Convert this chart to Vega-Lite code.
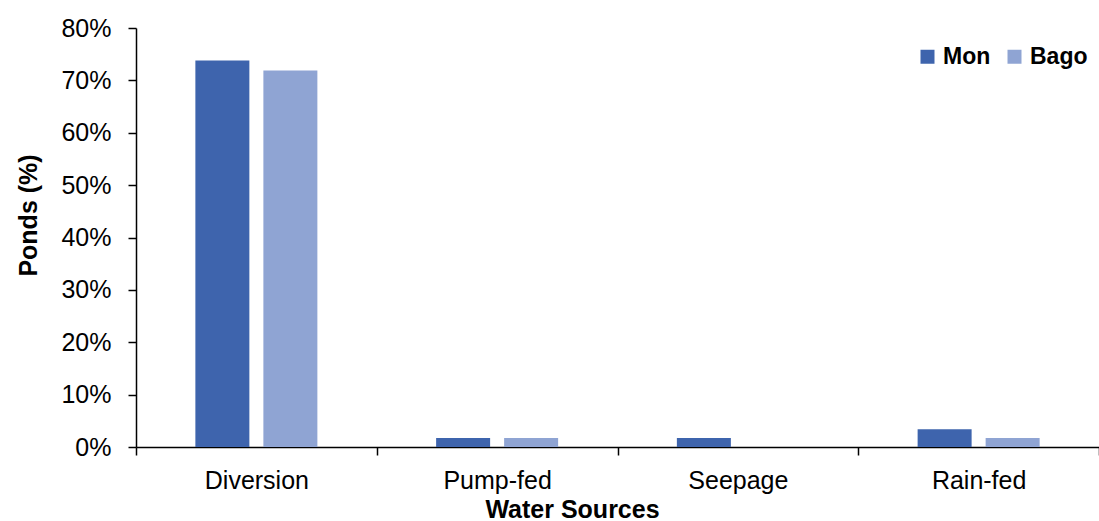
{
  "$schema": "https://vega.github.io/schema/vega-lite/v6.json",
  "autosize": "none",
  "width": 963,
  "height": 419,
  "padding": {"left": 136, "top": 28, "right": 0, "bottom": 74},
  "background": "white",
  "config": {
    "view": {"stroke": null},
    "font": "Liberation Sans"
  },
  "data": {
    "values": [
      {"source": "Diversion", "region": "Mon", "value": 0.738},
      {"source": "Diversion", "region": "Bago", "value": 0.719},
      {"source": "Pump-fed", "region": "Mon", "value": 0.017},
      {"source": "Pump-fed", "region": "Bago", "value": 0.017},
      {"source": "Seepage", "region": "Mon", "value": 0.017},
      {"source": "Seepage", "region": "Bago", "value": 0},
      {"source": "Rain-fed", "region": "Mon", "value": 0.034},
      {"source": "Rain-fed", "region": "Bago", "value": 0.017}
    ]
  },
  "mark": {"type": "bar"},
  "encoding": {
    "x": {
      "field": "source",
      "type": "nominal",
      "sort": ["Diversion", "Pump-fed", "Seepage", "Rain-fed"],
      "scale": {"paddingInner": 0, "paddingOuter": 0},
      "axis": {
        "title": "Water Sources",
        "titleFont": "Liberation Sans",
        "titleFontSize": 25,
        "titleFontWeight": "bold",
        "titleColor": "black",
        "titleX": 436,
        "titleY": 70,
        "titleBaseline": "alphabetic",
        "titleAlign": "center",
        "labelAngle": 0,
        "labelFont": "Liberation Sans",
        "labelFontSize": 25,
        "labelColor": "black",
        "labelPadding": 13,
        "tickBand": "extent",
        "tickSize": 8,
        "tickColor": "black",
        "tickWidth": 1.5,
        "domainColor": "black",
        "domainWidth": 1.5,
        "grid": false
      }
    },
    "xOffset": {
      "field": "region",
      "type": "nominal",
      "sort": ["Mon", "Bago"],
      "scale": {"paddingInner": 0.206, "paddingOuter": 0.873}
    },
    "y": {
      "field": "value",
      "type": "quantitative",
      "scale": {"domain": [0, 0.8], "nice": false},
      "axis": {
        "title": "Ponds (%)",
        "titleFont": "Liberation Sans",
        "titleFontSize": 25,
        "titleFontWeight": "bold",
        "titleColor": "black",
        "titleX": -99.5,
        "titleY": 187,
        "titleAngle": -90,
        "titleAlign": "center",
        "titleBaseline": "alphabetic",
        "values": [0, 0.1, 0.2, 0.3, 0.4, 0.5, 0.6, 0.7, 0.8],
        "format": ".0%",
        "labelFont": "Liberation Sans",
        "labelFontSize": 25,
        "labelColor": "black",
        "labelPadding": 17,
        "tickSize": 8,
        "tickColor": "black",
        "tickWidth": 1.5,
        "domainColor": "black",
        "domainWidth": 1.5,
        "grid": false
      }
    },
    "color": {
      "field": "region",
      "type": "nominal",
      "sort": ["Mon", "Bago"],
      "scale": {"domain": ["Mon", "Bago"], "range": ["#3E64AD", "#8FA4D3"]},
      "legend": {
        "title": null,
        "orient": "none",
        "legendX": 780,
        "legendY": 17,
        "direction": "horizontal",
        "symbolType": "square",
        "symbolSize": 196,
        "symbolStrokeWidth": 0,
        "labelFont": "Liberation Sans",
        "labelFontSize": 23,
        "labelFontWeight": "bold",
        "labelColor": "black",
        "labelOffset": 4,
        "columnPadding": 12,
        "padding": 0
      }
    }
  }
}
